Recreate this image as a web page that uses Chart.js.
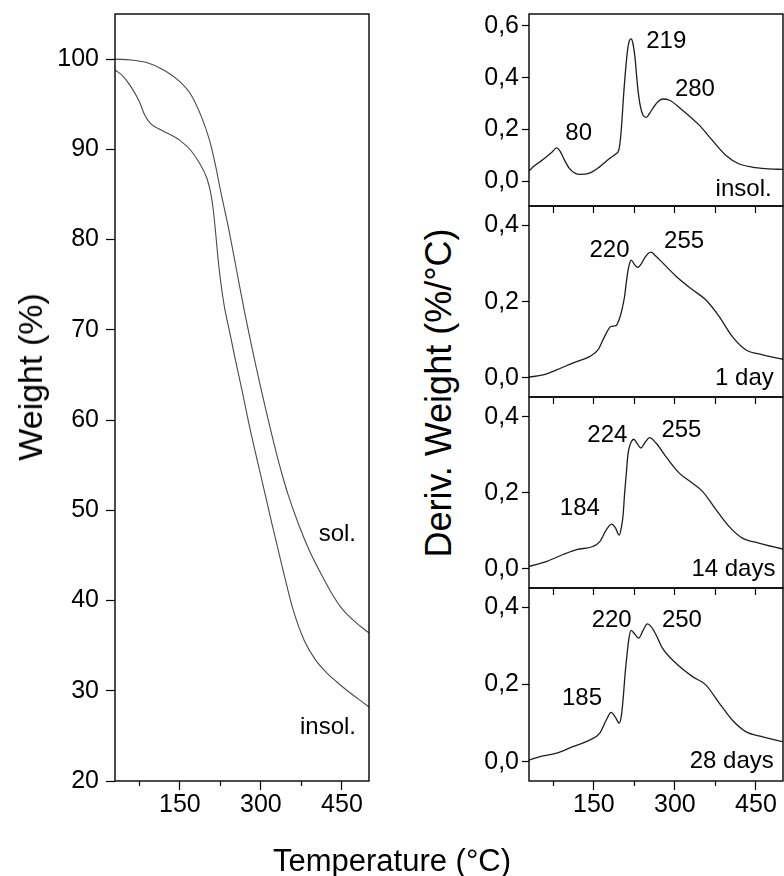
<!DOCTYPE html>
<html lang="en">
<head>
    <meta charset="UTF-8">
    <title>TGA / DTG</title>
    <script src="https://cdn.jsdelivr.net/npm/chart.js"></script>
    <style>
        body { margin: 0; background: #fff; }
        #wrap { position: relative; width: 784px; height: 876px; overflow: hidden;
                font-family: "Liberation Sans", Arial, sans-serif; color: #000; }
        #wrap canvas { position: absolute; }
        .axis-title { position: absolute; white-space: nowrap; line-height: 1;
                      transform: translate(-50%, -50%); }
        .axis-title.rot { transform: translate(-50%, -50%) rotate(-90deg); }
    </style>
</head>
<body>
<div id="wrap">
    <canvas id="tga" width="390" height="876" style="left:0;top:0"></canvas>
    <canvas id="dtg1" width="324" height="240" style="left:460px;top:0"></canvas>
    <canvas id="dtg2" width="324" height="240" style="left:460px;top:190px"></canvas>
    <canvas id="dtg3" width="324" height="240" style="left:460px;top:380px"></canvas>
    <canvas id="dtg4" width="324" height="306" style="left:460px;top:570px"></canvas>
    <div class="axis-title rot" style="left:30px;top:377px;font-size:34px">Weight (%)</div>
    <div class="axis-title rot" style="left:439px;top:393px;font-size:36px">Deriv. Weight (%/°C)</div>
    <div class="axis-title" style="left:392px;top:860px;font-size:31px">Temperature (°C)</div>
</div>
<script>
    // TGA curves (weight %)
    const solTemp = [30, 60, 90, 120, 150, 170, 190, 205, 215, 225, 240, 250, 260, 270, 280, 290, 300, 310, 320, 330, 340, 350, 370, 390, 410, 430, 450, 475, 500];
    const solWeight = [100, 99.9, 99.6, 98.8, 97.5, 96.1, 93.6, 91.0, 88.5, 85.5, 81.3, 78.2, 75.0, 71.9, 69.0, 66.2, 63.5, 60.9, 58.4, 56.0, 53.8, 51.8, 48.4, 45.5, 43.1, 40.9, 39.1, 37.6, 36.4];
    const insolTemp = [30, 45, 60, 75, 85, 95, 110, 130, 150, 170, 185, 200, 207, 212, 216, 220, 225, 232, 242, 252, 265, 280, 300, 320, 340, 360, 380, 400, 420, 440, 460, 480, 500];
    const insolWeight = [98.8, 98.1, 96.9, 95.3, 93.8, 92.9, 92.3, 91.7, 91.0, 89.9, 88.6, 86.8, 85.2, 83.2, 80.9, 78.3, 75.6, 72.7, 69.8, 66.9, 63.3, 59.0, 53.8, 48.6, 43.6, 38.9, 35.6, 33.5, 32.1, 31.0, 30.0, 29.1, 28.2];

    // DTG curves (%/°C)
    const insolDtgTemp = [30, 40, 50, 62, 72, 81, 88, 95, 105, 115, 124, 142, 160, 179, 190, 196, 200, 206, 212, 216, 219, 222, 226, 231, 236, 241, 247, 253, 260, 270, 278, 290, 314, 345, 369, 394, 418, 443, 468, 500];
    const insolDtg = [0.040, 0.060, 0.075, 0.094, 0.112, 0.129, 0.115, 0.085, 0.049, 0.032, 0.027, 0.032, 0.055, 0.088, 0.105, 0.120, 0.180, 0.360, 0.500, 0.545, 0.550, 0.535, 0.480, 0.365, 0.290, 0.255, 0.247, 0.262, 0.285, 0.310, 0.318, 0.313, 0.275, 0.217, 0.159, 0.101, 0.068, 0.055, 0.049, 0.046];
    const day1Temp = [30, 56, 81, 111, 142, 158, 170, 182, 191, 197, 202, 207, 210, 213, 216, 219, 225, 231, 238, 244, 250, 256, 263, 271, 302, 332, 357, 382, 406, 431, 461, 500];
    const day1Dtg = [0.002, 0.008, 0.021, 0.039, 0.056, 0.074, 0.109, 0.135, 0.137, 0.154, 0.179, 0.215, 0.250, 0.280, 0.300, 0.309, 0.298, 0.290, 0.300, 0.315, 0.326, 0.330, 0.322, 0.311, 0.267, 0.232, 0.205, 0.161, 0.109, 0.074, 0.061, 0.049];
    const day14Temp = [30, 63, 93, 118, 148, 161, 173, 183, 190, 197, 201, 204, 207, 210, 213, 216, 220, 224, 230, 237, 245, 253, 265, 283, 308, 332, 351, 376, 400, 425, 455, 500];
    const day14Dtg = [0.007, 0.020, 0.038, 0.051, 0.059, 0.072, 0.103, 0.118, 0.108, 0.089, 0.110, 0.140, 0.200, 0.250, 0.300, 0.322, 0.336, 0.341, 0.330, 0.318, 0.333, 0.345, 0.331, 0.296, 0.252, 0.226, 0.204, 0.156, 0.112, 0.081, 0.068, 0.052];
    const day28Temp = [30, 50, 81, 111, 142, 161, 173, 182, 190, 197, 201, 204, 208, 211, 215, 219, 226, 233, 241, 249, 256, 265, 277, 302, 332, 357, 382, 406, 431, 461, 500];
    const day28Dtg = [0.004, 0.013, 0.022, 0.039, 0.056, 0.074, 0.108, 0.128, 0.115, 0.100, 0.120, 0.160, 0.230, 0.273, 0.320, 0.340, 0.330, 0.320, 0.340, 0.357, 0.350, 0.329, 0.294, 0.255, 0.221, 0.199, 0.152, 0.108, 0.078, 0.065, 0.052];

    // text labels: [text, temperature, value, align]
    const tgaNotes = [['sol.', 476, 47.3, 'right'], ['insol.', 476, 25.9, 'right']];
    const insolNotes = [['80', 122, 0.186], ['219', 284, 0.542], ['280', 337, 0.356], ['insol.', 479, -0.031, 'right']];
    const day1Notes = [['220', 179, 0.334], ['255', 317, 0.358], ['1 day', 483, 0.0, 'right']];
    const day14Notes = [['184', 124, 0.158], ['224', 175, 0.35], ['255', 312, 0.365], ['14 days', 486, 0.0, 'right']];
    const day28Notes = [['185', 128, 0.165], ['220', 183, 0.365], ['250', 313, 0.365], ['28 days', 483, 0.0, 'right']];

    const FONT = '"Liberation Sans", Arial, sans-serif';

    const pts = (xs, ys) => xs.map((x, i) => ({ x: x, y: ys[i] }));

    const frame = {
        id: 'frame',
        afterDatasetsDraw(chart) {
            const { ctx, chartArea: a } = chart;
            ctx.save();
            ctx.strokeStyle = '#000';
            ctx.lineWidth = 1.4;
            ctx.strokeRect(a.left, a.top, a.right - a.left, a.bottom - a.top);
            ctx.restore();
        }
    };

    function notes(items) {
        return {
            id: 'notes',
            afterDraw(chart) {
                const { ctx, scales } = chart;
                ctx.save();
                ctx.font = '24px ' + FONT;
                ctx.fillStyle = '#000';
                ctx.textBaseline = 'middle';
                items.forEach(n => {
                    ctx.textAlign = n[3] || 'center';
                    ctx.fillText(n[0], scales.x.getPixelForValue(n[1]), scales.y.getPixelForValue(n[2]));
                });
                ctx.restore();
            }
        };
    }

    function noPad(s) {
        s.paddingTop = 0; s.paddingBottom = 0; s.paddingLeft = 0; s.paddingRight = 0;
    }

    function xAxis(labels, tickLen, height) {
        return {
            type: 'linear', position: 'bottom', min: 30, max: 500,
            border: { display: false },
            grid: {
                drawOnChartArea: false, drawTicks: true, tickLength: tickLen,
                tickColor: '#000', tickWidth: 1.2,
                tickBorderDash: c => (labels && c.tick && c.tick.value % 150 !== 0) ? [5, 40] : []
            },
            ticks: {
                display: labels, stepSize: 75, includeBounds: false, autoSkip: false,
                maxRotation: 0, padding: 0, color: '#000', font: { size: 25, family: FONT },
                callback: v => v % 150 === 0 ? String(v) : ''
            },
            afterFit: s => { s.height = height; noPad(s); }
        };
    }

    function yAxis(min, max, step, tickLen, pad, width, fmt) {
        return {
            type: 'linear', position: 'left', min: min, max: max,
            border: { display: false },
            grid: { drawOnChartArea: false, drawTicks: true, tickLength: tickLen, tickColor: '#000', tickWidth: 1.2 },
            ticks: {
                stepSize: step, includeBounds: false, padding: pad, color: '#000',
                font: { size: 25, family: FONT }, callback: fmt
            },
            afterFit: s => { s.width = width; noPad(s); }
        };
    }

    function lineSet(data, color, width) {
        return {
            data: data, borderColor: color, borderWidth: width, pointRadius: 0,
            fill: false, cubicInterpolationMode: 'monotone'
        };
    }

    const baseOpts = {
        responsive: false, animation: false, events: [],
        plugins: { legend: { display: false }, tooltip: { enabled: false } }
    };

    // left: TGA
    new Chart(document.getElementById('tga'), {
        type: 'line',
        data: {
            datasets: [
                lineSet(pts(solTemp, solWeight), '#4a4a4a', 1.1),
                lineSet(pts(insolTemp, insolWeight), '#4a4a4a', 1.1)
            ]
        },
        options: Object.assign({}, baseOpts, {
            layout: { padding: { top: 14, right: 21, left: 0, bottom: 0 } },
            scales: {
                x: xAxis(true, 9, 95),
                y: yAxis(20, 105, 10, 9, 7, 115, v => String(v))
            }
        }),
        plugins: [frame, notes(tgaNotes)]
    });

    // right: DTG panels
    const comma = v => v.toFixed(1).replace('.', ',');
    const panels = [
        { id: 'dtg1', temp: insolDtgTemp, val: insolDtg, notes: insolNotes, min: -0.095, max: 0.646, canvasTop: 0, top: 14, bottom: 206, h: 240 },
        { id: 'dtg2', temp: day1Temp, val: day1Dtg, notes: day1Notes, min: -0.05, max: 0.451, canvasTop: 190, top: 206, bottom: 397, h: 240 },
        { id: 'dtg3', temp: day14Temp, val: day14Dtg, notes: day14Notes, min: -0.05, max: 0.452, canvasTop: 380, top: 397, bottom: 588, h: 240 },
        { id: 'dtg4', temp: day28Temp, val: day28Dtg, notes: day28Notes, min: -0.05, max: 0.45, canvasTop: 570, top: 588, bottom: 781, h: 306 }
    ];

    panels.forEach((p, i) => {
        const last = i === panels.length - 1;
        new Chart(document.getElementById(p.id), {
            type: 'line',
            data: { datasets: [lineSet(pts(p.temp, p.val), '#1e1e1e', 1.3)] },
            options: Object.assign({}, baseOpts, {
                layout: { padding: { top: p.top - p.canvasTop, right: 1, left: 0, bottom: 0 } },
                scales: {
                    x: xAxis(last, last ? 9 : 7, p.canvasTop + p.h - p.bottom),
                    y: yAxis(p.min, p.max, 0.2, 7, 3, 69, comma)
                }
            }),
            plugins: [frame, notes(p.notes)]
        });
    });
</script>
</body>
</html>
